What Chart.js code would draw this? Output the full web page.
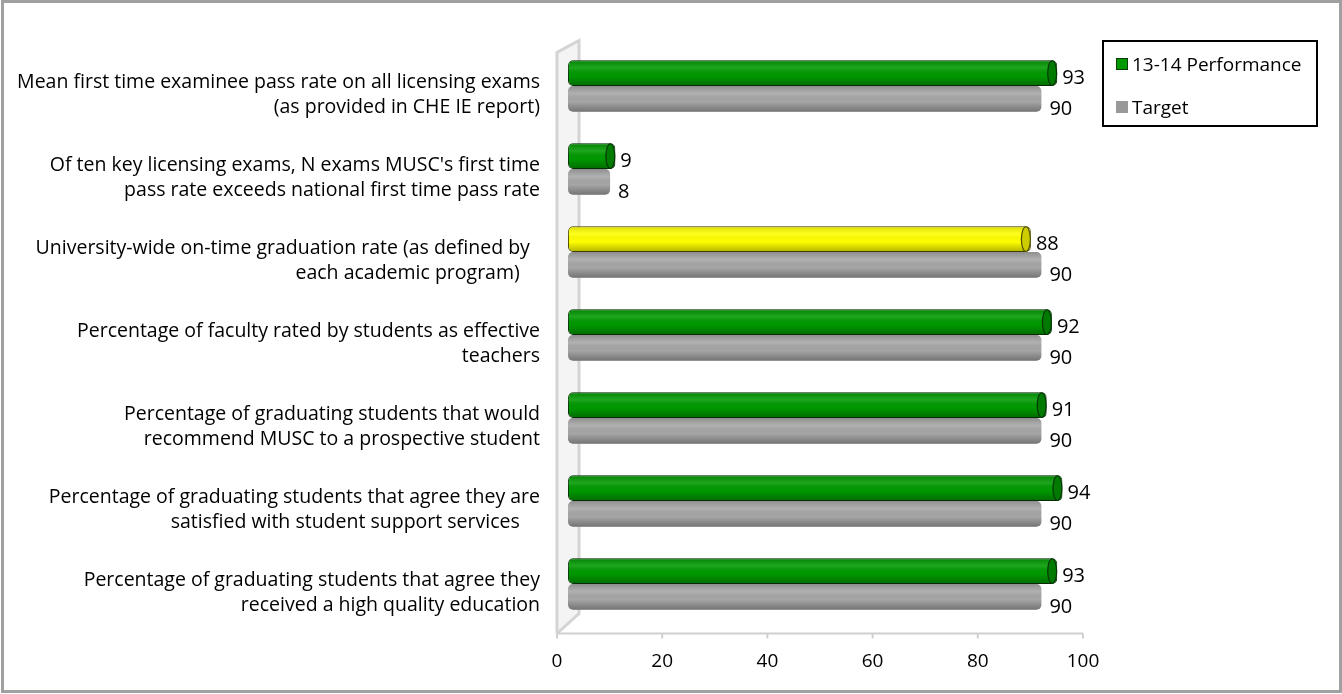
<!DOCTYPE html>
<html lang="en">
<head>
  <meta charset="UTF-8" />
  <title>Performance vs Target</title>
  <script src="https://cdn.jsdelivr.net/npm/chart.js"></script>
  <style>
    body { margin: 0; background: #fff; font-family: "Open Sans", sans-serif; }
    #wrap { position: relative; width: 1342px; height: 694px; }
    #legend {
      position: absolute; left: 1102px; top: 40px; width: 212px; height: 83px;
      border: 2px solid #000; font-size: 19px; color: #000;
    }
    #legend .item { position: absolute; left: 12px; display: flex; align-items: center; }
    #legend .box { width: 12px; height: 12px; margin-right: 4px; box-sizing: border-box; }
  </style>
</head>
<body>
<div id="wrap">
  <canvas id="chart" width="1342" height="694"></canvas>
  <div id="legend">
    <div class="item" style="top:9px"><span class="box" style="background:#009900;border:1.5px solid #0a3d0a"></span>13-14 Performance</div>
    <div class="item" style="top:52px"><span class="box" style="background:#999"></span>Target</div>
  </div>
</div>

<script>
  const categories = [
    ['Mean first time examinee pass rate on all licensing exams', '(as provided in CHE IE report)'],
    ["Of ten key licensing exams, N exams MUSC's first time", 'pass rate exceeds national first time pass rate'],
    ['University-wide on-time graduation rate (as defined by  ', 'each academic program)    '],
    ['Percentage of faculty rated by students as effective', 'teachers'],
    ['Percentage of graduating students that would', 'recommend MUSC to a prospective student'],
    ['Percentage of graduating students that agree they are', 'satisfied with student support services    '],
    ['Percentage of graduating students that agree they', 'received a high quality education']
  ];
  const performance = [93, 9, 88, 92, 91, 94, 93];
  const target = [90, 8, 90, 90, 90, 90, 90];
  const xTicks = [0, 20, 40, 60, 80, 100];

  // green when target met, yellow when not
  const perfColors = performance.map((v, i) => v >= target[i] ? '#009900' : '#ffff00');
  const perfEdges = performance.map((v, i) => v >= target[i] ? '#0a3d0a' : '#5a5a00');

  const DEPTH_X = 11, DEPTH_Y = 8;   // half-depth of the 3d box
  const FONT = '"Open Sans", sans-serif';

  // outer frame + left wall + floor edge
  const framePlugin = {
    id: 'frame',
    beforeDraw(chart) {
      const { ctx, chartArea } = chart;
      const xs = chart.scales.x;
      ctx.save();
      ctx.strokeStyle = '#a0a0a0';
      ctx.lineWidth = 3;
      ctx.strokeRect(2.5, 1.5, 1338, 690);

      const fx = xs.getPixelForValue(0) - DEPTH_X;     // front edge
      const bx = fx + 2 * DEPTH_X;                      // back edge
      const fy = chartArea.bottom + DEPTH_Y;            // front floor
      const topF = chartArea.top + 8, topB = chartArea.top - 4;
      ctx.fillStyle = '#f4f4f4';
      ctx.beginPath();
      ctx.moveTo(fx, topF); ctx.lineTo(bx, topB); ctx.lineTo(bx, fy - 2 * DEPTH_Y - 4); ctx.lineTo(fx, fy);
      ctx.closePath();
      ctx.fill();
      ctx.strokeStyle = '#d4d4d4';
      ctx.lineWidth = 3;
      ctx.beginPath();
      ctx.moveTo(fx, fy); ctx.lineTo(fx, topF); ctx.lineTo(bx, topB); ctx.lineTo(bx, fy - 2 * DEPTH_Y - 4);
      ctx.lineTo(fx, fy);
      ctx.stroke();

      // axis line and ticks in the front plane
      const right = xs.getPixelForValue(100) - DEPTH_X;
      ctx.lineWidth = 2;
      ctx.strokeStyle = '#cfcfcf';
      ctx.beginPath();
      ctx.moveTo(fx, fy); ctx.lineTo(right, fy);
      xTicks.forEach(t => {
        const x = xs.getPixelForValue(t) - DEPTH_X;
        ctx.moveTo(x, fy); ctx.lineTo(x, fy + 5);
      });
      ctx.stroke();
      ctx.restore();
    }
  };

  // cylinder shading, end caps and value labels
  const barPlugin = {
    id: 'bars3d',
    afterDatasetsDraw(chart) {
      const ctx = chart.ctx;
      ctx.save();
      chart.data.datasets.forEach((ds, di) => {
        const meta = chart.getDatasetMeta(di);
        meta.data.forEach((el, i) => {
          const top = el.y - el.height / 2, h = el.height;
          const left = el.base, right = el.x;
          const g = ctx.createLinearGradient(0, top, 0, top + h);
          g.addColorStop(0, 'rgba(0,0,0,0.15)');
          g.addColorStop(0.3, 'rgba(255,255,255,0.12)');
          g.addColorStop(0.6, 'rgba(0,0,0,0)');
          g.addColorStop(1, 'rgba(0,0,0,0.3)');
          ctx.fillStyle = g;
          ctx.beginPath();
          ctx.roundRect(left, top, right - left, h, 5);
          ctx.fill();

          if (di === 0) {
            ctx.fillStyle = perfColors[i];
            ctx.strokeStyle = perfEdges[i];
            ctx.lineWidth = 1.2;
            ctx.beginPath();
            ctx.ellipse(right - 5, el.y, 4.5, h / 2 - 0.5, 0, 0, Math.PI * 2);
            ctx.fill();
            ctx.stroke();
            ctx.fillStyle = 'rgba(0,0,0,0.2)';
            ctx.fill();
          }

          ctx.fillStyle = '#000';
          ctx.font = '20px ' + FONT;
          ctx.textBaseline = 'middle';
          ctx.textAlign = 'left';
          const v = ds.data[i];
          if (di === 0) ctx.fillText(v, right + 5, el.y + 5);
          else ctx.fillText(v, right + 8, el.y + 10);
        });
      });
      ctx.restore();
    }
  };

  new Chart(document.getElementById('chart'), {
    type: 'bar',
    data: {
      labels: categories,
      datasets: [
        {
          label: '13-14 Performance',
          data: performance,
          backgroundColor: perfColors,
          borderColor: perfEdges,
          borderWidth: 1,
          borderRadius: 5,
          borderSkipped: false,
          barPercentage: 1,
          categoryPercentage: 0.62
        },
        {
          label: 'Target',
          data: target,
          backgroundColor: '#a6a6a6',
          borderWidth: 0,
          borderRadius: 5,
          borderSkipped: false,
          barPercentage: 1,
          categoryPercentage: 0.62
        }
      ]
    },
    options: {
      indexAxis: 'y',
      responsive: false,
      animation: false,
      layout: { padding: { left: 0, right: 248, top: 44.5, bottom: 0 } },
      plugins: {
        legend: { display: false },
        tooltip: { enabled: false }
      },
      scales: {
        x: {
          min: 0, max: 100,
          grid: { display: false },
          border: { display: false },
          afterBuildTicks: (s) => { s.ticks = xTicks.map(v => ({ value: v })); },
          afterFit: (s) => { s.height = 68.5; s.paddingLeft = 0; s.paddingRight = 0; },
          ticks: {
            labelOffset: -DEPTH_X,
            padding: 17,
            color: '#000',
            font: { family: FONT, size: 19, lineHeight: 1.2 }
          }
        },
        y: {
          grid: { display: false },
          border: { display: false },
          afterFit: (s) => { s.width = 568; s.paddingTop = 0; s.paddingBottom = 0; },
          ticks: {
            labelOffset: 8.5,
            padding: 20,
            color: '#000',
            font: { family: FONT, size: 19.5, lineHeight: 1.28 }
          }
        }
      }
    },
    plugins: [framePlugin, barPlugin]
  });
</script>
</body>
</html>
